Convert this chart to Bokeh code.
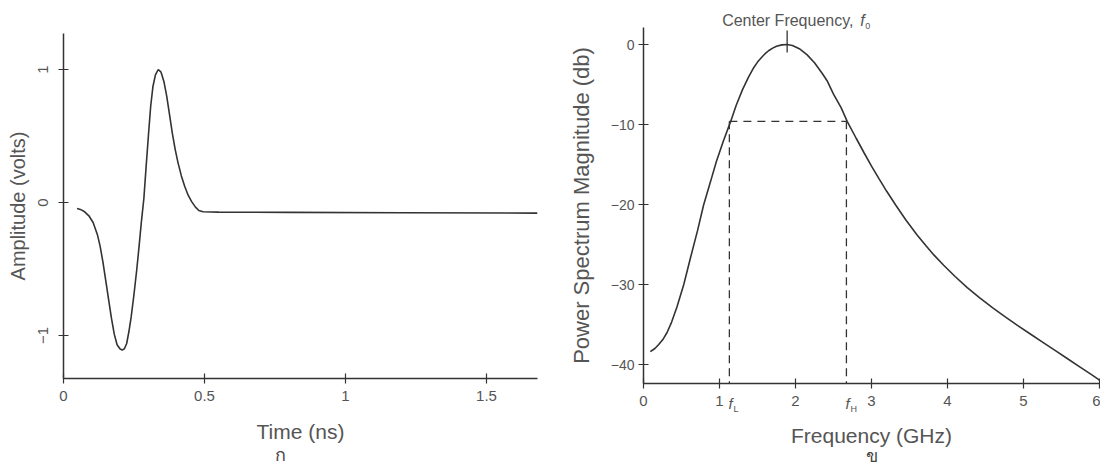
from bokeh.plotting import figure
from bokeh.layouts import row
from bokeh.models import Label, FixedTicker, Range1d
from bokeh.embed import file_html
from bokeh.resources import INLINE

# ---------------- data ----------------
time_ns = [0.048, 0.06, 0.075, 0.09, 0.105, 0.12, 0.13, 0.14, 0.15, 0.16,
           0.17, 0.18, 0.19, 0.2, 0.208, 0.216, 0.224, 0.232, 0.24, 0.25,
           0.26, 0.268, 0.276, 0.285, 0.293, 0.301, 0.309, 0.317, 0.326, 0.336,
           0.346, 0.356, 0.366, 0.376, 0.386, 0.396, 0.406, 0.418, 0.43, 0.442,
           0.455, 0.468, 0.48, 0.495, 0.55, 0.8, 1.2, 1.68]
amplitude_v = [-0.045, -0.052, -0.07, -0.1, -0.15, -0.24, -0.33, -0.45, -0.59, -0.73,
               -0.87, -0.99, -1.07, -1.1, -1.11, -1.1, -1.06, -0.97, -0.86, -0.69,
               -0.5, -0.33, -0.15, 0.03, 0.27, 0.5, 0.72, 0.87, 0.96, 1.0,
               0.98, 0.91, 0.8, 0.66, 0.52, 0.4, 0.3, 0.2, 0.12, 0.055,
               0.005, -0.035, -0.06, -0.07, -0.072, -0.074, -0.077, -0.08]

freq_ghz = [0.09, 0.15, 0.2, 0.26, 0.31, 0.37, 0.44, 0.53, 0.62, 0.71,
            0.79, 0.88, 0.96, 1.05, 1.14, 1.22, 1.3, 1.38, 1.45, 1.5,
            1.55, 1.6, 1.65, 1.7, 1.75, 1.82, 1.89, 1.96, 2.05, 2.15,
            2.25, 2.35, 2.42, 2.5, 2.6, 2.68, 2.8, 2.9, 3.0, 3.1,
            3.2, 3.32, 3.45, 3.6, 3.72, 3.82, 3.95, 4.1, 4.26, 4.42,
            4.6, 4.76, 4.92, 5.1, 5.25, 5.42, 5.58, 5.75, 5.9, 6.0]
power_db = [-38.4, -38.0, -37.5, -36.8, -36.0, -34.7, -32.8, -30.0, -26.6, -23.3,
            -20.1, -17.2, -14.6, -12.1, -9.8, -7.6, -5.7, -4.1, -2.9, -2.2,
            -1.65, -1.15, -0.75, -0.45, -0.22, -0.05, 0.0, -0.12, -0.52, -1.27,
            -2.29, -3.6, -4.6, -6.2, -7.9, -9.6, -11.75, -13.5, -15.2, -16.8,
            -18.35, -20.1, -21.9, -23.8, -25.2, -26.3, -27.6, -29.0, -30.4, -31.65,
            -32.95, -34.05, -35.1, -36.25, -37.2, -38.27, -39.28, -40.35, -41.3, -41.95]

f_low = 1.13
f_high = 2.67
f_center = 1.89
band_level_db = -9.6

x1_ticks = [0, 0.5, 1, 1.5]
x1_labels = ["0", "0.5", "1", "1.5"]
y1_ticks = [-1, 0, 1]
y1_labels = ["\u22121", "0", "1"]
x2_ticks = [0, 1, 2, 3, 4, 5, 6]
x2_labels = ["0", "1", "2", "3", "4", "5", "6"]
y2_ticks = [0, -10, -20, -30, -40]
y2_labels = ["0", "\u221210", "\u221220", "\u221230", "\u221240"]

FONT = "Liberation Sans"
TXT = "#555555"
LINE = "#333333"
H = 466


def style(p):
    p.outline_line_color = None
    p.xgrid.visible = False
    p.ygrid.visible = False
    p.background_fill_color = "white"
    p.border_fill_color = "white"
    for ax in (p.xaxis[0], p.yaxis[0]):
        ax.axis_line_color = LINE
        ax.axis_line_width = 1.5
        ax.major_tick_line_color = LINE
        ax.major_tick_line_width = 1.2
        ax.major_tick_in = 5
        ax.major_tick_out = 5
        ax.minor_tick_line_color = None
        ax.major_label_text_font = FONT
        ax.major_label_text_color = TXT
        ax.axis_label_text_font = FONT
        ax.axis_label_text_color = TXT
        ax.axis_label_text_font_style = "normal"
        ax.axis_label_text_font_size = "20px"


def lbl(p, x, y, text, dx=0, dy=0, size="15px", style_="normal", align="left", color=TXT):
    p.add_layout(Label(x=x, y=y, x_offset=dx, y_offset=dy, text=text, text_align=align,
                       text_baseline="middle", text_font=FONT, text_font_style=style_,
                       text_font_size=size, text_color=color))


# ---------------- left: pulse ----------------
x1_min, x1_max = 0, 1.68
y1_min, y1_max = -1.32, 1.27
p1 = figure(width=560, height=H,
            x_range=Range1d(-63 / 282, (560 - 63) / 282),
            y_range=Range1d((202 - H) / 133, 202 / 133),
            output_backend="svg", toolbar_location=None,
            min_border_left=0, min_border_right=0, min_border_top=0, min_border_bottom=0)
style(p1)
p1.xaxis.fixed_location = y1_min
p1.yaxis.fixed_location = x1_min
p1.xaxis.bounds = (x1_min, x1_max)
p1.yaxis.bounds = (y1_min, y1_max)
p1.xaxis.ticker = FixedTicker(ticks=x1_ticks)
p1.xaxis.major_label_overrides = dict(zip(x1_ticks, x1_labels))
p1.yaxis.ticker = FixedTicker(ticks=y1_ticks)
p1.yaxis.major_label_overrides = dict(zip(y1_ticks, y1_labels))
p1.yaxis.major_label_orientation = "parallel"
p1.xaxis.major_label_text_font_size = "15px"
p1.yaxis.major_label_text_font_size = "15px"
p1.xaxis.major_label_standoff = 8
p1.yaxis.major_label_standoff = 11
p1.xaxis.axis_label = "Time (ns)"
p1.yaxis.axis_label = "Amplitude (volts)"
p1.xaxis.axis_label_text_font_size = "21px"
p1.xaxis.axis_label_standoff = 15
p1.yaxis.axis_label_standoff = 6
p1.line(time_ns, amplitude_v, line_color=LINE, line_width=1.6)
lbl(p1, 0.77, y1_min, "ก", dy=-77, size="18px", align="center", color="#444444")

# ---------------- right: spectrum ----------------
x2_min, x2_max = 0, 6.0
y2_min, y2_max = -42.375, 2.125
p2 = figure(width=540, height=H,
            x_range=Range1d((560 - 643) / 76, (1100 - 643) / 76),
            y_range=Range1d((44 - H) / 8, 44 / 8),
            output_backend="svg", toolbar_location=None,
            min_border_left=0, min_border_right=0, min_border_top=0, min_border_bottom=0)
style(p2)
p2.xaxis.fixed_location = y2_min
p2.yaxis.fixed_location = x2_min
p2.xaxis.bounds = (x2_min, x2_max)
p2.yaxis.bounds = (y2_min, y2_max)
p2.xaxis.ticker = FixedTicker(ticks=x2_ticks)
p2.xaxis.major_label_overrides = dict(zip(x2_ticks, x2_labels))
p2.yaxis.ticker = FixedTicker(ticks=y2_ticks)
p2.yaxis.major_label_overrides = dict(zip(y2_ticks, y2_labels))
p2.xaxis.major_label_text_font_size = "15px"
p2.yaxis.major_label_text_font_size = "14px"
p2.xaxis.major_label_standoff = 7
p2.yaxis.major_label_standoff = 4
p2.xaxis.axis_label = "Frequency (GHz)"
p2.yaxis.axis_label = "Power Spectrum Magnitude (db)"
p2.xaxis.axis_label_text_font_size = "21px"
p2.yaxis.axis_label_text_font_size = "22px"
p2.xaxis.axis_label_standoff = 15
p2.yaxis.axis_label_standoff = 14

p2.line(freq_ghz, power_db, line_color=LINE, line_width=1.6)
p2.line([f_low, f_high], [band_level_db, band_level_db], line_color=LINE, line_width=1.3,
        line_dash="8 6")
p2.line([f_low, f_low], [band_level_db, y2_min], line_color=LINE, line_width=1.3,
        line_dash="8 5")
p2.line([f_high, f_high], [band_level_db, y2_min], line_color=LINE, line_width=1.3,
        line_dash="8 5")
p2.line([f_center, f_center], [1.75, -1.0], line_color=LINE, line_width=1.3)

lbl(p2, f_center, 0, "Center Frequency,", dx=-65, dy=24, size="16px")
lbl(p2, f_center, 0, "f", dx=73, dy=24, size="16px", style_="italic")
lbl(p2, f_center, 0, "0", dx=78, dy=19, size="9px")

for fx, sub in ((f_low, "L"), (f_high, "H")):
    lbl(p2, fx, y2_min, "f", dx=-1, dy=-20, size="15px", style_="italic")
    lbl(p2, fx, y2_min, sub, dx=4, dy=-25, size="9px")

lbl(p2, 3.0, y2_min, "ข", dy=-72, size="18px", align="center", color="#444444")

layout = row(p1, p2)
open("out.html", "w").write(file_html(layout, INLINE))
